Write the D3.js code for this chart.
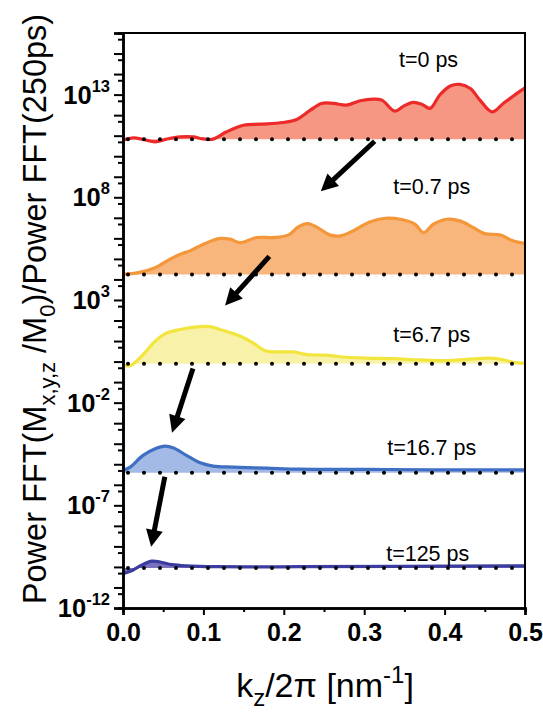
<!DOCTYPE html>
<html><head><meta charset="utf-8">
<script src="https://cdn.jsdelivr.net/npm/d3@7"></script>
<style>
body{margin:0;background:#fff}
svg{display:block}
text{font-family:"Liberation Sans",Arial,Helvetica,sans-serif;fill:#000}
</style>
</head><body>
<svg id="c" width="543" height="713"></svg>
<script>
// ---------- data ----------
const seriesLabels = ["t=0 ps", "t=0.7 ps", "t=6.7 ps", "t=16.7 ps", "t=125 ps"];
// vertical offset of each curve (log10 of dotted reference line)
const baselineExp = [10.83, 4.24, -0.10, -5.41, -10.05];

// k_z/2pi values and log10(ratio) above the dotted reference, per series
const k_t0 = [0.000,0.013,0.025,0.040,0.054,0.071,0.087,0.100,0.112,0.129,0.150,0.171,0.199,0.216,0.233,0.247,0.262,0.278,0.295,0.311,0.322,0.338,0.349,0.361,0.372,0.382,0.394,0.407,0.419,0.432,0.444,0.459,0.473,0.490,0.500];
const r_t0 = [-0.05,0.06,-0.01,-0.13,0.00,0.11,0.11,0.01,0.00,0.36,0.68,0.73,0.81,0.96,1.41,1.74,1.74,1.66,1.87,1.95,1.90,1.37,1.61,1.79,1.69,1.50,2.15,2.59,2.67,2.47,1.90,1.33,1.74,2.23,2.50];

const k_t07 = [0.000,0.019,0.040,0.058,0.073,0.083,0.100,0.119,0.133,0.146,0.166,0.187,0.206,0.218,0.230,0.243,0.257,0.270,0.286,0.307,0.326,0.345,0.363,0.374,0.386,0.403,0.419,0.436,0.450,0.469,0.485,0.500];
const r_t07 = [0.01,0.09,0.33,0.74,1.01,1.15,1.47,1.75,1.72,1.55,1.80,1.80,1.93,2.32,2.48,2.26,1.93,1.88,2.12,2.56,2.74,2.69,2.45,2.04,2.45,2.69,2.61,2.28,1.99,1.93,1.64,1.51];

const k_t67 = [0.000,0.009,0.025,0.040,0.052,0.071,0.096,0.108,0.125,0.146,0.162,0.177,0.195,0.212,0.229,0.253,0.278,0.303,0.336,0.369,0.403,0.428,0.457,0.473,0.485,0.500];
const r_t67 = [-0.05,-0.10,0.44,1.09,1.45,1.66,1.80,1.80,1.61,1.33,1.00,0.63,0.57,0.57,0.44,0.41,0.31,0.27,0.24,0.18,0.15,0.21,0.27,0.19,0.06,0.01];

const k_t167 = [0.000,0.009,0.025,0.040,0.052,0.063,0.079,0.096,0.112,0.137,0.179,0.220,0.303,0.386,0.500];
const r_t167 = [0.11,0.27,0.84,1.16,1.29,1.20,0.84,0.48,0.32,0.27,0.22,0.17,0.16,0.14,0.14];

const k_t125 = [0.000,0.012,0.023,0.036,0.046,0.061,0.079,0.117,0.220,0.345,0.500];
const r_t125 = [-0.28,-0.11,0.13,0.33,0.29,0.16,0.10,0.06,0.06,0.08,0.10];

const seriesK = [k_t0, k_t07, k_t67, k_t167, k_t125];
const seriesR = [r_t0, r_t07, r_t67, r_t167, r_t125];

// label anchor (k, log10 y) and arrows (from k, from log10, to k, to log10)
const labelK = [0.380, 0.384, 0.384, 0.384, 0.379];
const labelExp = [14.68, 8.49, 1.27, -4.20, -9.37];
const arrowFromK = [0.313, 0.182, 0.087, 0.052];
const arrowFromExp = [10.73, 5.12, -0.34, -5.61];
const arrowToK = [0.246, 0.127, 0.061, 0.035];
const arrowToExp = [8.29, 2.73, -3.46, -9.02];

const xTicks = [0, 0.1, 0.2, 0.3, 0.4, 0.5];
const xTickLabels = ["0.0", "0.1", "0.2", "0.3", "0.4", "0.5"];
const yTickExps = [-12, -7, -2, 3, 8, 13];

// ---------- styles ----------
const lineColors = ["#ec2a2a", "#f3973a", "#f2e63e", "#3f6fc2", "#3b3d9e"];
const fillColors = ["#f48c76", "#f7ad6e", "#f7f0a0", "#98b3e2", "#6b63b8"];

// ---------- layout ----------
const svg = d3.select("#c");
const L = 123, R = 525, T = 33, B = 608;
const x = d3.scaleLinear().domain([0, 0.5]).range([L, R]);
const y = d3.scaleLog().domain([1e-12, 1e16]).range([B, T]);
const P = e => Math.pow(10, e);

// filled areas + lines
seriesK.forEach((ks, i) => {
  const pts = ks.map((k, j) => ({k, v: P(baselineExp[i] + seriesR[i][j])}));
  const base = P(baselineExp[i]);
  const area = d3.area().x(d => x(d.k)).y0(y(base)).y1(d => y(d.v)).curve(d3.curveCatmullRom.alpha(0.5));
  const line = d3.line().x(d => x(d.k)).y(d => y(d.v)).curve(d3.curveCatmullRom.alpha(0.5));
  svg.append("path").attr("d", area(pts)).attr("fill", fillColors[i]).attr("opacity", 0.9);
  svg.append("path").attr("d", line(pts)).attr("fill", "none")
     .attr("stroke", lineColors[i]).attr("stroke-width", 3.2).attr("stroke-linejoin", "round");
});

// dotted reference lines
baselineExp.forEach(e => {
  svg.append("line").attr("x1", x(0) + 5).attr("x2", x(0.5)).attr("y1", y(P(e))).attr("y2", y(P(e)))
     .attr("stroke", "#000").attr("stroke-width", 4).attr("stroke-linecap", "round")
     .attr("stroke-dasharray", "0,16");
});

// arrows
arrowFromK.forEach((k, i) => {
  const x1 = x(k), y1 = y(P(arrowFromExp[i]));
  const x2 = x(arrowToK[i]), y2 = y(P(arrowToExp[i]));
  const dx = x2 - x1, dy = y2 - y1, len = Math.hypot(dx, dy);
  const ux = dx / len, uy = dy / len;
  const hl = 17, hw = 8.5;
  const bx = x2 - ux * hl, by = y2 - uy * hl;
  svg.append("line").attr("x1", x1).attr("y1", y1).attr("x2", bx + ux * 2).attr("y2", by + uy * 2)
     .attr("stroke", "#000").attr("stroke-width", 5);
  svg.append("path").attr("d", `M${x2},${y2}L${bx - uy * hw},${by + ux * hw}L${bx + uy * hw},${by - ux * hw}Z`)
     .attr("fill", "#000");
});

// labels
seriesLabels.forEach((s, i) => {
  svg.append("text").attr("x", x(labelK[i])).attr("y", y(P(labelExp[i])))
     .attr("text-anchor", "middle").attr("dominant-baseline", "central")
     .attr("font-size", 21.5).text(s);
});

// frame
svg.append("path").attr("d", `M${L},${T}H${R}V${B}`).attr("fill", "none").attr("stroke", "#000").attr("stroke-width", 2);

// y axis
const yAxisG = svg.append("g").attr("transform", `translate(${L},0)`);
const majorVals = d3.range(-12, 17).map(P);
const minorVals = d3.range(-12, 16).map(e => 5 * P(e));
yAxisG.call(d3.axisLeft(y).tickValues(majorVals).tickSize(9).tickFormat(""));
yAxisG.append("g").call(d3.axisLeft(y).tickValues(minorVals).tickSize(5).tickFormat(""));
yAxisG.selectAll("path.domain").attr("stroke-width", 2.5);
yAxisG.selectAll(".tick line").attr("stroke-width", 2);
yTickExps.forEach(e => {
  const t = svg.append("text").attr("x", L - 13).attr("y", y(P(e)) + 9)
    .attr("text-anchor", "end").attr("font-size", 25.5).attr("font-weight", "bold");
  t.append("tspan").text("10");
  t.append("tspan").attr("dy", -12).attr("font-size", 16.5).text(String(e));
});

// x axis
const xAxisG = svg.append("g").attr("transform", `translate(0,${B})`);
xAxisG.call(d3.axisBottom(x).tickValues(xTicks).tickSize(7).tickFormat((d, i) => xTickLabels[i]));
xAxisG.append("g").call(d3.axisBottom(x).tickValues(d3.range(0.05, 0.5, 0.1)).tickSize(4).tickFormat(""));
xAxisG.selectAll("path.domain").attr("stroke-width", 2.5);
xAxisG.selectAll(".tick line").attr("stroke-width", 2);
xAxisG.selectAll(".tick text").attr("font-size", 25).attr("font-weight", "bold")
  .attr("font-family", "Liberation Sans,Arial,sans-serif").attr("dy", 0).attr("y", 33);

// axis titles
const xt = svg.append("text").attr("x", 325).attr("y", 697).attr("text-anchor", "middle").attr("font-size", 34);
xt.append("tspan").text("k");
xt.append("tspan").attr("dy", 9).attr("font-size", 24).text("z");
xt.append("tspan").attr("dy", -9).text("/2π [nm");
xt.append("tspan").attr("dy", -14).attr("font-size", 24).text("-1");
xt.append("tspan").attr("dy", 14).text("]");

const yt = svg.append("text").attr("transform", "translate(46,309) rotate(-90)")
  .attr("text-anchor", "middle").attr("font-size", 32.5);
yt.append("tspan").text("Power FFT(M");
yt.append("tspan").attr("dy", 9).attr("font-size", 22).text("x,y,z");
yt.append("tspan").attr("dy", -9).text(" /M");
yt.append("tspan").attr("dy", 9).attr("font-size", 22).text("0");
yt.append("tspan").attr("dy", -9).text(")/Power FFT(250ps)");
</script>
</body></html>
